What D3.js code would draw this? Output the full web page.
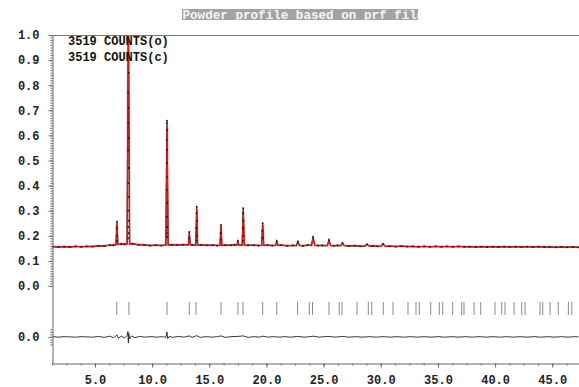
<!DOCTYPE html>
<html>
<head>
<meta charset="utf-8">
<script src="https://cdn.jsdelivr.net/npm/d3@7"></script>
<style>
  body { margin: 0; background: #fff; }
  svg { display: block; }
</style>
</head>
<body>
<div id="chart"></div>
<script>
// ---- values (2-theta in degrees, intensity scaled 0..1) ----

// background between reflections
const bgX = [
  1.3, 1.8, 2.3, 2.8, 3.3, 3.8, 4.3, 4.8, 5.3, 5.8,
  6.3, 6.6, 7.3, 7.6, 8.3, 8.8, 9.3, 9.8, 10.3, 10.8,
  11.7, 12.2, 12.7, 13.5, 14.3, 14.8, 15.3, 15.7, 16.4, 16.9,
  17.2, 18.4, 18.9, 19.3, 20.1, 20.5, 21.3, 21.8, 22.3, 23.2,
  23.6, 24.5, 24.9, 25.9, 26.2, 27.2, 27.7, 28.2, 29.3, 29.7,
  30.8, 31.3, 31.8, 32.3, 32.8, 33.3, 33.8, 34.3, 34.8, 35.3,
  35.8, 36.3, 36.8, 37.3, 37.8, 38.3, 38.8, 39.3, 39.8, 40.3,
  40.8, 41.3, 41.8, 42.3, 42.8, 43.3, 43.8, 44.3, 44.8, 45.3,
  45.8, 46.3, 46.8, 47.3
];
const bgCalc = [
  0.156, 0.156, 0.156, 0.156, 0.157, 0.157, 0.157, 0.158, 0.159, 0.160,
  0.162, 0.163, 0.166, 0.167, 0.167, 0.165, 0.163, 0.162, 0.162, 0.162,
  0.163, 0.164, 0.164, 0.164, 0.163, 0.163, 0.162, 0.162, 0.162, 0.163,
  0.163, 0.163, 0.162, 0.162, 0.162, 0.162, 0.162, 0.161, 0.161, 0.161,
  0.162, 0.162, 0.161, 0.161, 0.161, 0.160, 0.160, 0.159, 0.159, 0.159,
  0.158, 0.158, 0.158, 0.158, 0.157, 0.157, 0.157, 0.157, 0.157, 0.157,
  0.157, 0.157, 0.157, 0.157, 0.156, 0.156, 0.156, 0.156, 0.156, 0.156,
  0.156, 0.156, 0.156, 0.156, 0.156, 0.156, 0.156, 0.156, 0.155, 0.155,
  0.155, 0.155, 0.155, 0.155
];
const bgObs = [
  0.157, 0.155, 0.157, 0.155, 0.158, 0.156, 0.158, 0.157, 0.160, 0.159,
  0.163, 0.162, 0.168, 0.166, 0.169, 0.164, 0.164, 0.161, 0.163, 0.161,
  0.165, 0.163, 0.165, 0.163, 0.164, 0.162, 0.163, 0.161, 0.163, 0.162,
  0.165, 0.162, 0.163, 0.161, 0.163, 0.161, 0.163, 0.160, 0.162, 0.160,
  0.163, 0.161, 0.162, 0.160, 0.162, 0.159, 0.161, 0.158, 0.160, 0.158,
  0.159, 0.157, 0.159, 0.157, 0.158, 0.156, 0.158, 0.156, 0.158, 0.156,
  0.158, 0.156, 0.158, 0.156, 0.157, 0.155, 0.157, 0.155, 0.157, 0.155,
  0.157, 0.155, 0.157, 0.155, 0.157, 0.155, 0.157, 0.155, 0.156, 0.154,
  0.156, 0.154, 0.156, 0.154
];

// reflections: position, calculated top, observed top, background under it, half width at foot
const peakX    = [6.92, 7.92, 11.30, 13.25, 13.90, 16.02, 17.50, 17.97, 19.67, 20.90, 22.75, 24.08, 25.47, 26.65, 28.80, 30.20];
const peakCalc = [0.245, 1.06, 0.635, 0.208, 0.305, 0.236, 0.176, 0.300, 0.243, 0.174, 0.173, 0.190, 0.180, 0.169, 0.165, 0.166];
const peakObs  = [0.256, 1.12, 0.659, 0.215, 0.316, 0.243, 0.180, 0.310, 0.250, 0.178, 0.177, 0.196, 0.183, 0.171, 0.166, 0.168];
const peakBase = [0.165, 0.167, 0.163, 0.164, 0.163, 0.162, 0.163, 0.163, 0.162, 0.162, 0.161, 0.162, 0.161, 0.161, 0.159, 0.158];
const peakHalf = [0.08, 0.11, 0.10, 0.08, 0.08, 0.08, 0.08, 0.09, 0.09, 0.10, 0.14, 0.14, 0.14, 0.14, 0.20, 0.20];

// observed points on the flanks of the strong reflections
const flankX = [
  7.90, 7.94, 7.90, 7.94, 7.90, 7.94, 7.90, 7.94, 7.90, 7.94, 7.90, 7.94, 7.90, 7.94, 7.90,
  11.28, 11.32, 11.28, 11.32, 11.28, 11.32, 11.28, 11.32, 11.28, 11.32, 11.28, 11.32,
  6.90, 6.94, 6.90,
  13.88, 13.92, 13.88, 13.92, 13.88,
  17.95, 17.99, 17.95, 17.99, 17.95,
  19.65, 19.69,
  16.00, 16.04,
  13.25
];
const flankY = [
  0.93, 0.85, 0.77, 0.71, 0.65, 0.59, 0.54, 0.47, 0.41, 0.355, 0.30, 0.26, 0.235, 0.21, 0.19,
  0.648, 0.621, 0.582, 0.542, 0.49, 0.434, 0.382, 0.33, 0.275, 0.235, 0.21, 0.195,
  0.23, 0.20, 0.18,
  0.29, 0.26, 0.23, 0.20, 0.18,
  0.29, 0.26, 0.23, 0.20, 0.18,
  0.22, 0.19,
  0.21, 0.185,
  0.19
];

// reflection markers
const braggX = [
  6.90, 7.97, 11.30, 13.25, 13.84, 16.02, 17.51, 17.95, 19.67, 20.90,
  22.72, 23.75, 24.03, 25.47, 26.37, 26.61, 27.92, 28.91, 29.21, 30.22,
  31.07, 32.38, 33.08, 33.37, 34.37, 35.12, 35.42, 36.29, 37.08, 37.28,
  38.16, 38.74, 39.99, 40.58, 40.87, 41.66, 42.33, 42.62, 43.93, 44.17,
  44.81, 45.53, 46.41, 46.71
];

// difference curve (obs - calc)
const diffX = [
  1.3, 1.8, 2.3, 2.8, 3.3, 3.8, 4.3, 4.8, 5.3, 5.8,
  6.3, 6.6, 6.8, 6.92, 7.05, 7.3, 7.6, 7.82, 7.88, 7.92,
  7.96, 8.02, 8.2, 8.5, 8.9, 9.4, 9.9, 10.4, 10.9, 11.2,
  11.3, 11.36, 11.5, 11.8, 12.3, 12.8, 13.25, 13.5, 13.9, 14.2,
  14.7, 15.2, 15.7, 16.02, 16.4, 16.9, 17.5, 17.97, 18.4, 18.9,
  19.4, 19.67, 20.1, 20.6, 21.1, 21.6, 22.1, 22.75, 23.3, 23.8,
  24.08, 24.6, 25.1, 25.47, 26.0, 26.65, 27.2, 27.8, 28.4, 29.0,
  29.6, 30.2, 30.8, 31.4, 32.0, 32.6, 33.2, 33.8, 34.4, 35.0,
  35.6, 36.2, 36.8, 37.4, 38.0, 38.6, 39.2, 39.8, 40.4, 41.0,
  41.6, 42.2, 42.8, 43.4, 44.0, 44.6, 45.2, 45.8, 46.4, 47.0,
  47.3
];
const diffY = [
  0.001, -0.001, 0.001, 0.000, -0.001, 0.001, 0.000, -0.001, 0.002, -0.002,
  0.003, -0.003, 0.002, 0.008, -0.005, 0.003, -0.004, 0.006, 0.022, -0.024,
  0.014, -0.008, 0.004, -0.003, 0.002, -0.001, 0.001, -0.001, 0.001, -0.002,
  0.020, -0.007, 0.002, -0.002, 0.002, -0.001, 0.004, -0.002, 0.005, -0.002,
  0.001, -0.001, 0.001, 0.004, -0.002, 0.001, 0.002, 0.004, -0.002, 0.001,
  -0.001, 0.003, -0.001, 0.001, -0.001, 0.001, -0.001, 0.002, -0.001, 0.001,
  0.003, -0.001, 0.001, 0.002, -0.001, 0.002, -0.001, 0.001, -0.001, 0.001,
  -0.001, 0.001, -0.001, 0.001, -0.001, 0.001, -0.001, 0.001, -0.001, 0.001,
  -0.001, 0.001, -0.001, 0.001, -0.001, 0.001, -0.001, 0.001, -0.001, 0.001,
  -0.001, 0.001, -0.001, 0.001, -0.001, 0.001, -0.001, 0.001, -0.001, 0.001,
  0.000
];
const diffZero = -0.203;   // where the difference curve's 0.0 sits on the intensity axis

const yTicks = [0.0, 0.1, 0.2, 0.3, 0.4, 0.5, 0.6, 0.7, 0.8, 0.9, 1.0];
const xTicks = [5, 10, 15, 20, 25, 30, 35, 40, 45];
const legendLines = ['3519 COUNTS(o)', '3519 COUNTS(c)'];
const titleText = 'Powder profile based on prf file';

// ---- drawing ----
var W = 579, H = 387;
var plot = { left: 52, right: 579, top: 35, bottom: 363 };
var font = "'Liberation Mono', 'Courier New', monospace";

var x = d3.scaleLinear().domain([1.24, 47.34]).range([plot.left, plot.right]);
var y = d3.scaleLinear().domain([-0.307, 1.0]).range([plot.bottom, plot.top]);

var svg = d3.select('#chart').append('svg').attr('width', W).attr('height', H);

svg.append('defs').append('clipPath').attr('id', 'plotClip')
  .append('rect')
  .attr('x', plot.left).attr('y', plot.top)
  .attr('width', plot.right - plot.left).attr('height', plot.bottom - plot.top);

// title box
var titleClip = svg.select('defs').append('clipPath').attr('id', 'titleClip');
titleClip.append('rect').attr('x', 182).attr('y', 9).attr('width', 236).attr('height', 11);
svg.append('rect').attr('x', 182).attr('y', 9).attr('width', 236).attr('height', 11).attr('fill', '#a3a3a3');
svg.append('text')
  .attr('clip-path', 'url(#titleClip)')
  .attr('x', 182.5).attr('y', 18.6)
  .style('font-family', font).style('font-size', '12.6px')
  .style('font-weight', 'bold')
  .attr('fill', '#f6f6f6')
  .text(titleText);

// build the profile tables
var calcPts = bgX.map((v, i) => [v, bgCalc[i]]);
var obsPts = bgX.map((v, i) => [v, bgObs[i]]);
peakX.forEach((p, i) => {
  calcPts.push([p - peakHalf[i], peakBase[i]], [p, peakCalc[i]], [p + peakHalf[i], peakBase[i]]);
  obsPts.push([p - peakHalf[i], peakBase[i]], [p, peakObs[i]], [p + peakHalf[i], peakBase[i]]);
});
calcPts.sort((a, b) => a[0] - b[0]);
obsPts.sort((a, b) => a[0] - b[0]);

var dots = bgX.map((v, i) => [v, bgObs[i]])
  .concat(peakX.map((v, i) => [v, peakObs[i]]))
  .concat(flankX.map((v, i) => [v, flankY[i]]));

var line = d3.line().x(d => x(d[0])).y(d => y(d[1]));

var g = svg.append('g').attr('clip-path', 'url(#plotClip)');

// soft halo of the calculated curve
g.append('path')
  .datum(calcPts)
  .attr('fill', 'none')
  .attr('stroke', '#f4a0a0')
  .attr('stroke-width', 2.6)
  .attr('stroke-opacity', 0.7)
  .attr('d', line);

// observed trace underneath
g.append('path')
  .datum(obsPts)
  .attr('fill', 'none')
  .attr('stroke', '#222')
  .attr('stroke-width', 1.2)
  .attr('d', line);

// calculated profile
g.append('path')
  .datum(calcPts)
  .attr('fill', 'none')
  .attr('stroke', '#e81a1a')
  .attr('stroke-width', 1)
  .attr('d', line);

// observed points
g.selectAll('circle.obs')
  .data(dots)
  .join('circle')
  .attr('class', 'obs')
  .attr('cx', d => x(d[0]))
  .attr('cy', d => y(d[1]))
  .attr('r', 0.9)
  .attr('fill', '#111');

// reflection markers
g.selectAll('line.bragg')
  .data(braggX)
  .join('line')
  .attr('class', 'bragg')
  .attr('x1', d => x(d)).attr('x2', d => x(d))
  .attr('y1', 302).attr('y2', 315)
  .attr('stroke', '#8a8a8a')
  .attr('stroke-width', 1);

// difference curve
g.append('path')
  .datum(diffX.map((v, i) => [v, diffY[i] + diffZero]))
  .attr('fill', 'none')
  .attr('stroke', '#222')
  .attr('stroke-width', 0.9)
  .attr('d', line);

// frame top
svg.append('line')
  .attr('x1', plot.left).attr('x2', plot.right)
  .attr('y1', plot.top + 0.5).attr('y2', plot.top + 0.5)
  .attr('stroke', '#777');

// Y axis (intensity)
svg.append('g')
  .attr('transform', 'translate(' + (plot.left + 0.5) + ',0)')
  .call(d3.axisLeft(y).tickValues(yTicks).tickSize(4).tickSizeOuter(0).tickPadding(9).tickFormat(d3.format('.1f')));

// difference zero label
svg.append('g')
  .attr('transform', 'translate(' + (plot.left + 0.5) + ',0)')
  .call(d3.axisLeft(y).tickValues([diffZero]).tickSize(4).tickSizeOuter(0).tickPadding(9).tickFormat(() => '0.0'))
  .select('.domain').remove();

// minor ticks
var minorY = d3.range(0, 101).map(k => k / 100)
  .concat(d3.range(-3, 4).map(k => diffZero + k / 100));
svg.append('g')
  .attr('transform', 'translate(' + (plot.left + 0.5) + ',0)')
  .call(d3.axisLeft(y).tickValues(minorY).tickSize(2).tickFormat(''))
  .select('.domain').remove();

// X axis
svg.append('g')
  .attr('transform', 'translate(0,' + (plot.bottom + 0.5) + ')')
  .call(d3.axisBottom(x).tickValues(xTicks).tickSize(4).tickSizeOuter(0).tickPadding(8).tickFormat(d3.format('.1f')));

svg.append('g')
  .attr('transform', 'translate(0,' + (plot.bottom + 0.5) + ')')
  .call(d3.axisBottom(x).tickValues(d3.range(1, 38).map(k => k * 1.25)).tickSize(2).tickFormat(''))
  .select('.domain').remove();

svg.selectAll('.tick text')
  .style('font-family', font)
  .style('font-size', '12px')
  .style('font-weight', 'bold')
  .attr('fill', '#222');
svg.selectAll('.domain, .tick line').attr('stroke', '#666');

// legend
svg.selectAll('text.legend')
  .data(legendLines)
  .join('text')
  .attr('class', 'legend')
  .attr('x', 68)
  .attr('y', (d, i) => 45 + i * 16)
  .style('font-family', font)
  .style('font-size', '12px')
  .style('font-weight', 'bold')
  .attr('fill', '#111')
  .text(d => d);
</script>
</body>
</html>
